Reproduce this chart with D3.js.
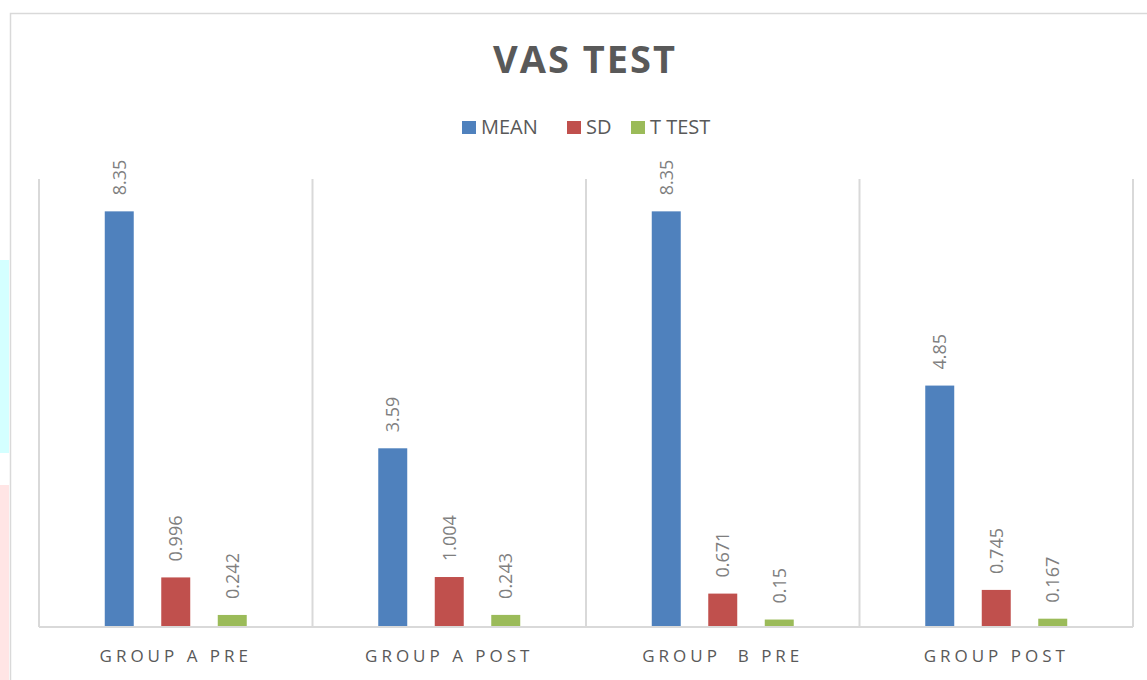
<!DOCTYPE html>
<html>
<head>
<meta charset="utf-8">
<script src="https://cdn.jsdelivr.net/npm/d3@7"></script>
<style>
  html, body { margin: 0; padding: 0; background: #fff; }
  svg { display: block; }
  text { font-family: "Open Sans", "Noto Sans", sans-serif; }
</style>
</head>
<body>
<svg id="chart" width="1147" height="680"></svg>
<script>
const categories = ["GROUP A PRE", "GROUP A POST", "GROUP  B PRE", "GROUP POST"];
const series = ["MEAN", "SD", "T TEST"];
const meanValues = [8.35, 3.59, 8.35, 4.85];
const sdValues = [0.996, 1.004, 0.671, 0.745];
const tTestValues = [0.242, 0.243, 0.15, 0.167];
const labelText = {
  "MEAN": ["8.35", "3.59", "8.35", "4.85"],
  "SD": ["0.996", "1.004", "0.671", "0.745"],
  "T TEST": ["0.242", "0.243", "0.15", "0.167"]
};
const colors = {"MEAN": "#4f81bd", "SD": "#c0504d", "T TEST": "#9bbb59"};

const valuesBySeries = {"MEAN": meanValues, "SD": sdValues, "T TEST": tTestValues};
const rows = [];
categories.forEach((c, i) => series.forEach(s => rows.push({cat: c, ser: s, value: valuesBySeries[s][i], label: labelText[s][i]})));

const svg = d3.select("#chart");

// screenshot edge artifacts
svg.append("rect").attr("x", 0).attr("y", 260).attr("width", 9).attr("height", 193).attr("fill", "#d4ffff");
svg.append("rect").attr("x", 0).attr("y", 485).attr("width", 9).attr("height", 195).attr("fill", "#ffe5e5");

// outer chart border
svg.append("path").attr("d", "M10.5,680 V13.5 H1147").attr("fill", "none").attr("stroke", "#d9d9d9").attr("stroke-width", 1.5);

const plot = {left: 39, right: 1133, top: 179, bottom: 627};
const x = d3.scaleBand().domain(categories).range([plot.left, plot.right]).paddingInner(0).paddingOuter(0);
const xs = d3.scaleBand().domain(series)
  .range([x.bandwidth() / 2 - 84.75, x.bandwidth() / 2 + 84.75])
  .paddingInner(0.487).paddingOuter(0.2435);
const y = d3.scaleLinear().domain([0, 9]).range([plot.bottom, plot.top]);

// vertical category separators
const bounds = categories.map(c => x(c)).concat([plot.right]);
svg.append("g").selectAll("line").data(bounds).join("line")
  .attr("x1", d => d).attr("x2", d => d)
  .attr("y1", plot.top).attr("y2", plot.bottom)
  .attr("stroke", "#d9d9d9").attr("stroke-width", 2);

// bars
svg.append("g").selectAll("rect").data(rows).join("rect")
  .attr("x", d => x(d.cat) + xs(d.ser))
  .attr("y", d => y(d.value))
  .attr("width", xs.bandwidth())
  .attr("height", d => y(0) - y(d.value))
  .attr("fill", d => colors[d.ser]);

// baseline axis
const xAxis = d3.axisBottom(x).tickSize(0).tickPadding(0);
const gx = svg.append("g").attr("transform", `translate(0,${plot.bottom})`).call(xAxis);
gx.select(".domain").attr("stroke", "#d9d9d9").attr("stroke-width", 2).attr("d", `M${plot.left},0H${plot.right}`);
gx.selectAll(".tick text")
  .attr("y", 35)
  .attr("dy", 0)
  .style("font-family", '"Open Sans", sans-serif')
  .style("font-size", "17px")
  .style("letter-spacing", "4px")
  .style("white-space", "pre")
  .attr("fill", "#595959");

// data labels
svg.append("g").selectAll("text").data(rows).join("text")
  .attr("transform", d => `translate(${x(d.cat) + xs(d.ser) + xs.bandwidth() / 2},${y(d.value) - 16}) rotate(-90)`)
  .attr("dy", "0.35em")
  .attr("text-anchor", "start")
  .style("font-size", "18px")
  .attr("fill", "#7f7f7f")
  .text(d => d.label);

// title
svg.append("text").attr("x", 585).attr("y", 73).attr("text-anchor", "middle")
  .style("font-size", "38px").style("font-weight", "bold").style("letter-spacing", "2px")
  .attr("fill", "#595959").text("VAS TEST");

// legend
const legendPos = [{s: "MEAN", x: 462}, {s: "SD", x: 567}, {s: "T TEST", x: 631}];
const lg = svg.append("g").selectAll("g").data(legendPos).join("g");
lg.append("rect").attr("x", d => d.x).attr("y", 121).attr("width", 14).attr("height", 13).attr("fill", d => colors[d.s]);
lg.append("text").attr("x", d => d.x + 19).attr("y", 134)
  .style("font-size", "20px").attr("fill", "#595959").text(d => d.s);
</script>
</body>
</html>
